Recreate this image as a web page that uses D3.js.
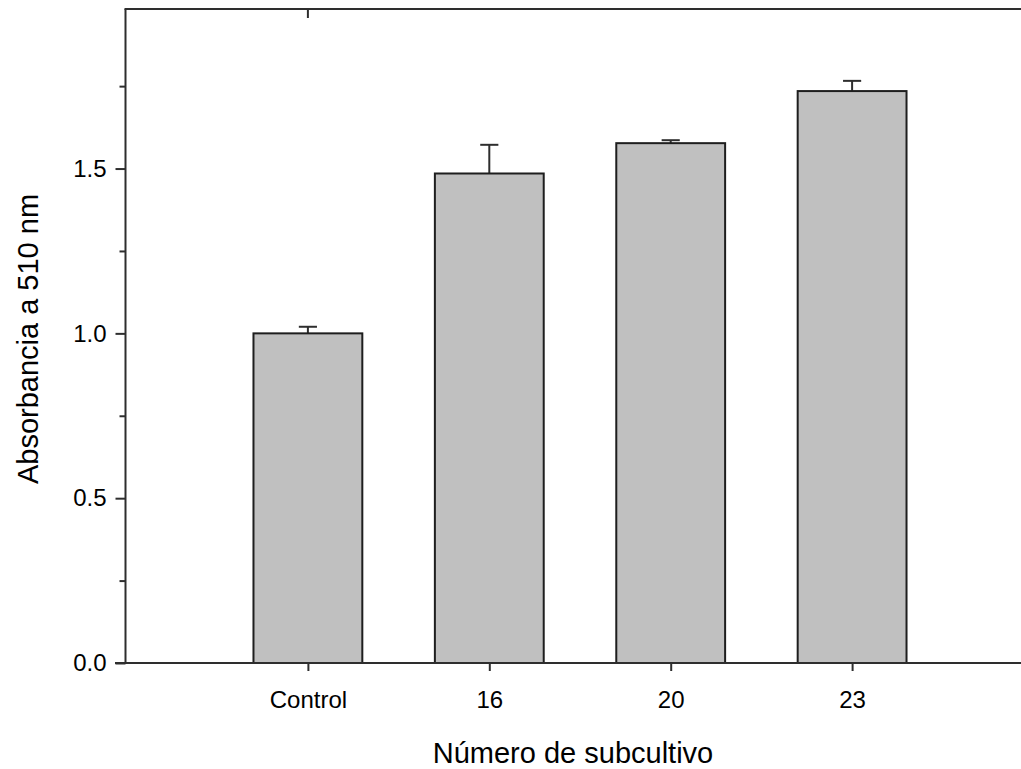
<!DOCTYPE html>
<html>
<head>
<meta charset="utf-8">
<script src="https://cdn.jsdelivr.net/npm/d3@7"></script>
<style>
  html, body { margin: 0; padding: 0; background: #fff; }
  svg { display: block; }
  text { font-family: "Liberation Sans", Arial, sans-serif; fill: #000; }
</style>
</head>
<body>
<svg id="chart" width="1021" height="769"></svg>
<script>
// Absorbance at 510 nm by subculture number (mean and error)
const categories = ["Control", "16", "20", "23"];
const means = [1.0, 1.485, 1.577, 1.735];
const errors = [0.02, 0.087, 0.009, 0.031];
const yMajorTicks = [0, 0.5, 1.0, 1.5];
const yMinorTicks = [0.25, 0.75, 1.25, 1.75];
const xTitle = "Número de subcultivo";
const yTitle = "Absorbancia a 510 nm";

const svg = d3.select("#chart");
const W = 1021;

const plot = { left: 125.5, top: 9, bottom: 663 };

// category i sits at position i+1 on a continuous axis
const x = d3.scaleLinear().domain([0, 5]).range([126.5, 126.5 + 5 * 181.4]);
const y = d3.scaleLinear().domain([0, 1.984]).range([plot.bottom, plot.top]);

const barW = 0.6;
const capW = 0.1;
const axisColor = "#2e2e2e";

const data = categories.map((c, i) => ({ cat: c, pos: i + 1, mean: means[i], err: errors[i] }));

// error bars (upper only, drawn behind the bars)
const eb = svg.append("g");
eb.selectAll("line.stem").data(data).join("line")
  .attr("x1", d => x(d.pos)).attr("x2", d => x(d.pos))
  .attr("y1", d => y(d.mean)).attr("y2", d => y(d.mean + d.err))
  .attr("stroke", axisColor).attr("stroke-width", 2);
eb.selectAll("line.cap").data(data).join("line")
  .attr("x1", d => x(d.pos - capW / 2)).attr("x2", d => x(d.pos + capW / 2))
  .attr("y1", d => y(d.mean + d.err)).attr("y2", d => y(d.mean + d.err))
  .attr("stroke", axisColor).attr("stroke-width", 2);

// bars
svg.append("g").selectAll("rect").data(data).join("rect")
  .attr("x", d => x(d.pos - barW / 2))
  .attr("width", d => x(d.pos + barW / 2) - x(d.pos - barW / 2))
  .attr("y", d => y(d.mean))
  .attr("height", d => y(0) - y(d.mean))
  .attr("fill", "#c0c0c0")
  .attr("stroke", "#1e1e1e")
  .attr("stroke-width", 2);

// frame lines
const frame = svg.append("g").attr("stroke", axisColor).attr("stroke-width", 2);
frame.append("line").attr("x1", plot.left).attr("x2", plot.left).attr("y1", plot.top).attr("y2", plot.bottom);
frame.append("line").attr("x1", plot.left - 1).attr("x2", W).attr("y1", plot.top).attr("y2", plot.top);
frame.append("line").attr("x1", 115).attr("x2", W).attr("y1", plot.bottom).attr("y2", plot.bottom);

// y axis: major and minor ticks
const yAxis = svg.append("g").attr("transform", `translate(${plot.left},0)`)
  .call(d3.axisLeft(y).tickValues(yMajorTicks).tickFormat(d3.format(".1f")).tickSize(10).tickPadding(9));
svg.append("g").attr("transform", `translate(${plot.left},0)`)
  .call(d3.axisLeft(y).tickValues(yMinorTicks).tickFormat("").tickSize(6));

// x axis ticks at category positions
const xAxis = svg.append("g").attr("transform", `translate(0,${plot.bottom})`)
  .call(d3.axisBottom(x).tickValues(data.map(d => d.pos)).tickFormat((d, i) => categories[i]).tickSize(8).tickPadding(20));

// inner tick on the top edge at the first category
svg.append("line")
  .attr("x1", x(1)).attr("x2", x(1))
  .attr("y1", plot.top).attr("y2", plot.top + 9)
  .attr("stroke", axisColor).attr("stroke-width", 2);

svg.selectAll(".domain").remove();
svg.selectAll(".tick line").attr("stroke", axisColor).attr("stroke-width", 2);
svg.selectAll(".tick text")
  .attr("font-family", "'Liberation Sans', Arial, sans-serif")
  .attr("font-size", 24)
  .attr("fill", "#000");

// axis titles
svg.append("text")
  .attr("x", 573).attr("y", 763)
  .attr("text-anchor", "middle")
  .attr("font-size", 29)
  .text(xTitle);

svg.append("text")
  .attr("transform", "translate(38,339) rotate(-90)")
  .attr("text-anchor", "middle")
  .attr("font-size", 29)
  .text(yTitle);
</script>
</body>
</html>
